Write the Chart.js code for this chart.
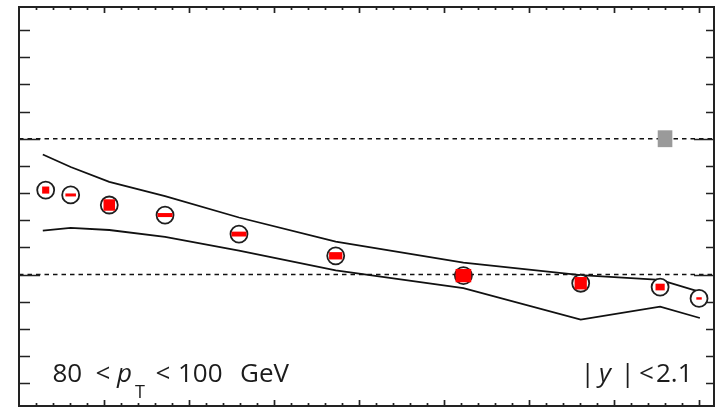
<!DOCTYPE html>
<html>
<head>
<meta charset="utf-8">
<script src="https://cdn.jsdelivr.net/npm/chart.js@4.4.0/dist/chart.umd.min.js"></script>
<style>
  html, body { margin: 0; padding: 0; background: #fff; }
  #wrap { width: 720px; height: 409px; }
</style>
</head>
<body>
<div id="wrap"><canvas id="c"></canvas></div>
<script>
// measured points (x in Npart-like units, y = ratio)
const xs = [15.7, 30.4, 53.1, 85.9, 129.4, 186.3, 261.4, 330.4, 377.1, 400]
const ratio = [0.811, 0.793, 0.756, 0.719, 0.649, 0.569, 0.496, 0.468, 0.454, 0.412]
// systematic boxes (half sizes)
const sysHalfX = [2.1, 3.1, 3.4, 4.4, 4.4, 3.9, 4.6, 3.6, 2.7, 1.6]
const sysHalfY = [0.013, 0.0055, 0.021, 0.0074, 0.009, 0.0135, 0.0245, 0.0228, 0.0123, 0.0044]
// theory band
const bandX = [14, 30.4, 53.1, 85.9, 129.4, 186.3, 261.4, 330.4, 377.1, 400.5]
const bandHigh = [0.942, 0.896, 0.841, 0.789, 0.710, 0.621, 0.544, 0.498, 0.480, 0.436]
const bandLow = [0.662, 0.672, 0.664, 0.639, 0.588, 0.515, 0.450, 0.334, 0.382, 0.340]
// normalisation box
const normX = 380
const normHalfX = 4.3
const normHalfY = 0.031
const refLines = [1.0, 0.5]
const xMin = 0, xMax = 408.8
const yMin = 0.016, yMax = 1.485

const pts = xs.map((x, i) => ({ x: x, y: ratio[i] }))
const hi = bandX.map((x, i) => ({ x: x, y: bandHigh[i] }))
const lo = bandX.map((x, i) => ({ x: x, y: bandLow[i] }))

const refSets = refLines.map(v => ({
  type: 'line',
  data: [{ x: xMin, y: v }, { x: xMax, y: v }],
  borderColor: '#111',
  borderWidth: 1.4,
  borderDash: [4.5, 4],
  pointRadius: 0,
  order: 3
}))

const decor = {
  id: 'decor',
  afterDatasetsDraw(chart) {
    const ctx = chart.ctx
    const xs_ = chart.scales.x
    const ys_ = chart.scales.y
    const a = chart.chartArea
    ctx.save()

    // gray normalisation box
    ctx.fillStyle = '#9a9a9a'
    const gx0 = xs_.getPixelForValue(normX - normHalfX)
    const gx1 = xs_.getPixelForValue(normX + normHalfX)
    const gy0 = ys_.getPixelForValue(1 + normHalfY)
    const gy1 = ys_.getPixelForValue(1 - normHalfY)
    ctx.fillRect(gx0, gy0, gx1 - gx0, gy1 - gy0)

    // red systematic boxes
    ctx.fillStyle = '#ff0000'
    xs.forEach((x, i) => {
      const x0 = xs_.getPixelForValue(x - sysHalfX[i])
      const x1 = xs_.getPixelForValue(x + sysHalfX[i])
      const y0 = ys_.getPixelForValue(ratio[i] + sysHalfY[i])
      const y1 = ys_.getPixelForValue(ratio[i] - sysHalfY[i])
      ctx.fillRect(x0, y0, x1 - x0, y1 - y0)
    })

    // ticks
    ctx.strokeStyle = '#222'
    ctx.lineWidth = 1.7
    ctx.beginPath()
    for (let v = 0.1; v < yMax; v += 0.1) {
      const y = Math.round(ys_.getPixelForValue(v)) + 0.5
      if (y <= a.top + 2 || y >= a.bottom - 2) continue
      const major = Math.abs(v - 0.5) < 1e-6 || Math.abs(v - 1.0) < 1e-6
      ctx.moveTo(a.left, y); ctx.lineTo(a.left + (major ? 21 : 11), y)
      ctx.moveTo(a.right, y); ctx.lineTo(a.right - (major ? 20 : 8), y)
    }
    for (let v = 10; v < xMax; v += 10) {
      const x = Math.round(xs_.getPixelForValue(v)) + 0.5
      const major = v % 50 === 0
      ctx.moveTo(x, a.top); ctx.lineTo(x, a.top + (major ? 6 : 3))
      ctx.moveTo(x, a.bottom); ctx.lineTo(x, a.bottom - (major ? 6 : 3))
    }
    ctx.stroke()

    // frame
    ctx.lineWidth = 2
    ctx.strokeRect(a.left, a.top, a.right - a.left, a.bottom - a.top)

    // labels, each piece placed by the left edge of its ink
    ctx.fillStyle = '#1c1c1c'
    ctx.textBaseline = 'alphabetic'
    ctx.textAlign = 'left'
    const put = (t, f, inkX, y) => {
      ctx.font = f
      const m = ctx.measureText(t)
      ctx.fillText(t, inkX + m.actualBoundingBoxLeft, y)
    }
    const reg = '26px "Open Sans"'
    const ita = 'italic 26px "Open Sans"'
    const sub = '18px "Open Sans"'
    const base = 381.5
    put('80', reg, 53.5, base)
    put('<', reg, 96.5, base)
    put('p', ita, 116, base)
    put('T', sub, 135, base + 16)
    put('<', reg, 156.5, base)
    put('100', reg, 180, base)
    put('GeV', reg, 241, base)
    put('|', reg, 586.5, base)
    put('y', ita, 596, base)
    put('|', reg, 626.5, base)
    put('<', reg, 640, base)
    put('2.1', reg, 657, base)
    ctx.restore()
  }
}

new Chart(document.getElementById('c'), {
  type: 'scatter',
  data: {
    datasets: [
      {
        data: pts,
        pointRadius: 8.5,
        pointBorderWidth: 1.8,
        pointBorderColor: '#1e1e1e',
        pointBackgroundColor: '#ffffff',
        order: 0
      },
      {
        type: 'line',
        data: hi,
        borderColor: '#111',
        borderWidth: 1.8,
        pointRadius: 0,
        order: 1
      },
      {
        type: 'line',
        data: lo,
        borderColor: '#111',
        borderWidth: 1.8,
        pointRadius: 0,
        order: 1
      },
      ...refSets
    ]
  },
  options: {
    responsive: true,
    maintainAspectRatio: false,
    animation: false,
    layout: { autoPadding: false, padding: { left: 19, top: 7, right: 6, bottom: 3 } },
    plugins: { legend: { display: false }, tooltip: { enabled: false } },
    scales: {
      x: { type: 'linear', display: false, min: xMin, max: xMax },
      y: { type: 'linear', display: false, min: yMin, max: yMax }
    }
  },
  plugins: [decor]
})
</script>
</body>
</html>
